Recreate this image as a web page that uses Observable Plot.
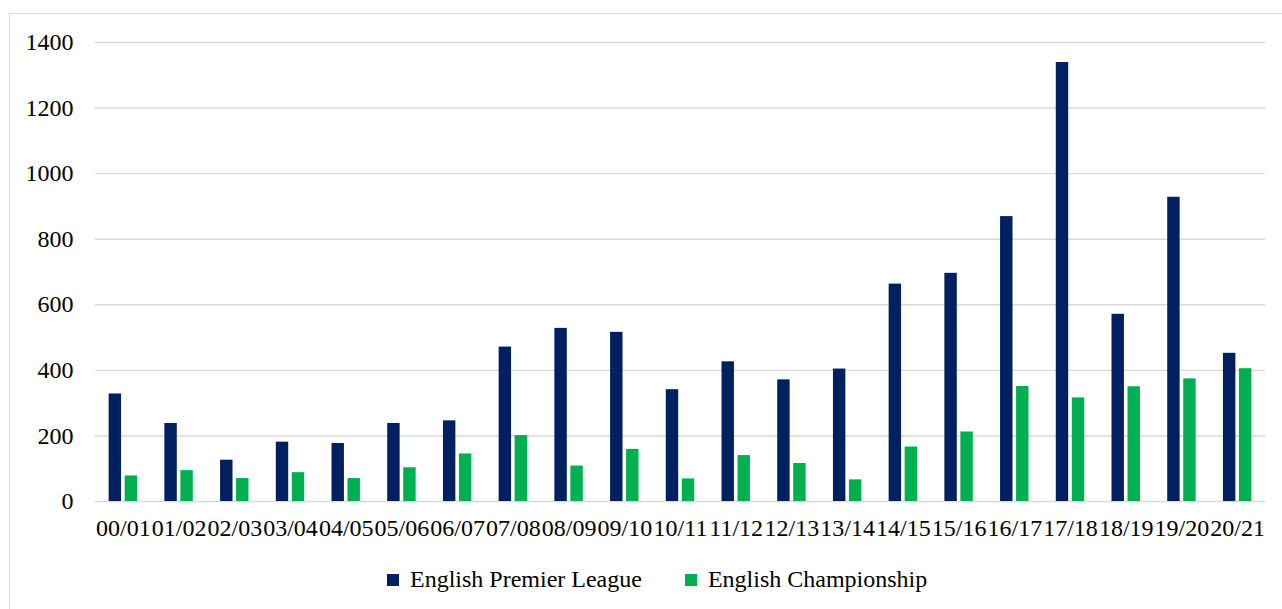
<!DOCTYPE html>
<html>
<head>
<meta charset="utf-8">
<script src="https://cdn.jsdelivr.net/npm/d3@7"></script>
<script src="https://cdn.jsdelivr.net/npm/@observablehq/plot@0.6"></script>
<style>
  html, body { margin: 0; padding: 0; background: #fff; }
  body { width: 1282px; height: 609px; position: relative; overflow: hidden; font-family: "Liberation Serif", Tinos, "Times New Roman", Times, "Nimbus Roman", "DejaVu Serif", serif; }
  #frame { position: absolute; left: 9px; top: 13px; width: 1280px; height: 620px; border: 1px solid #d9d9d9; box-sizing: border-box; }
  #chart { position: absolute; left: 0; top: 0; }
  #chart svg, #chart svg text { font-family: "Liberation Serif", Tinos, "Times New Roman", Times, "Nimbus Roman", "DejaVu Serif", serif !important; }
  #legend { position: absolute; left: 387px; top: 566px; display: flex; align-items: center; font-size: 24px; color: #000; white-space: nowrap; }
  #legend .item { display: flex; align-items: center; margin-right: 43px; }
  #legend .sw { width: 12px; height: 12px; margin-right: 11px; }
</style>
</head>
<body>
<div id="frame"></div>
<div id="chart"></div>
<div id="legend"></div>
<script>
const seasons = ["00/01","01/02","02/03","03/04","04/05","05/06","06/07","07/08","08/09","09/10","10/11","11/12","12/13","13/14","14/15","15/16","16/17","17/18","18/19","19/20","20/21"];
const premierLeague = [328, 238, 126, 181, 177, 238, 246, 471, 528, 516, 341, 426, 371, 404, 663, 696, 869, 1339, 571, 928, 452];
const championship = [78, 94, 70, 88, 70, 103, 145, 201, 108, 159, 69, 140, 116, 66, 166, 212, 351, 316, 350, 374, 405];
const seriesNames = ["English Premier League", "English Championship"];
const seriesColors = ["#002060", "#00B050"];
const yTicks = [0, 200, 400, 600, 800, 1000, 1200, 1400];

const plData = seasons.map((s, i) => ({season: s, value: premierLeague[i]}));
const chData = seasons.map((s, i) => ({season: s, value: championship[i]}));

const chart = Plot.plot({
  width: 1282,
  height: 545,
  marginLeft: 95,
  marginRight: 17,
  marginTop: 42,
  marginBottom: 44,
  style: {fontSize: "24px", color: "#000", background: "transparent"},
  x: {domain: seasons, paddingInner: 0.49, paddingOuter: 0.245, round: false, label: null},
  y: {domain: [0, 1400], label: null},
  marks: [
    Plot.gridY(yTicks, {stroke: "#d9d9d9", strokeOpacity: 1, strokeWidth: 1.4}),
    Plot.barY(plData, {x: "season", y: "value", fill: seriesColors[0], insetRight: 16}),
    Plot.barY(chData, {x: "season", y: "value", fill: seriesColors[1], insetLeft: 16}),
    Plot.axisY(yTicks, {tickSize: 0, tickPadding: 22, tickFormat: d => String(d), fontSize: 24, label: null}),
    Plot.axisX({tickSize: 0, tickPadding: 17, fontSize: 24, label: null})
  ]
});
document.getElementById("chart").appendChild(chart);

const legend = document.getElementById("legend");
seriesNames.forEach((name, i) => {
  const item = document.createElement("div");
  item.className = "item";
  const sw = document.createElement("span");
  sw.className = "sw";
  sw.style.background = seriesColors[i];
  const label = document.createElement("span");
  label.textContent = name;
  item.appendChild(sw);
  item.appendChild(label);
  legend.appendChild(item);
});
</script>
</body>
</html>
